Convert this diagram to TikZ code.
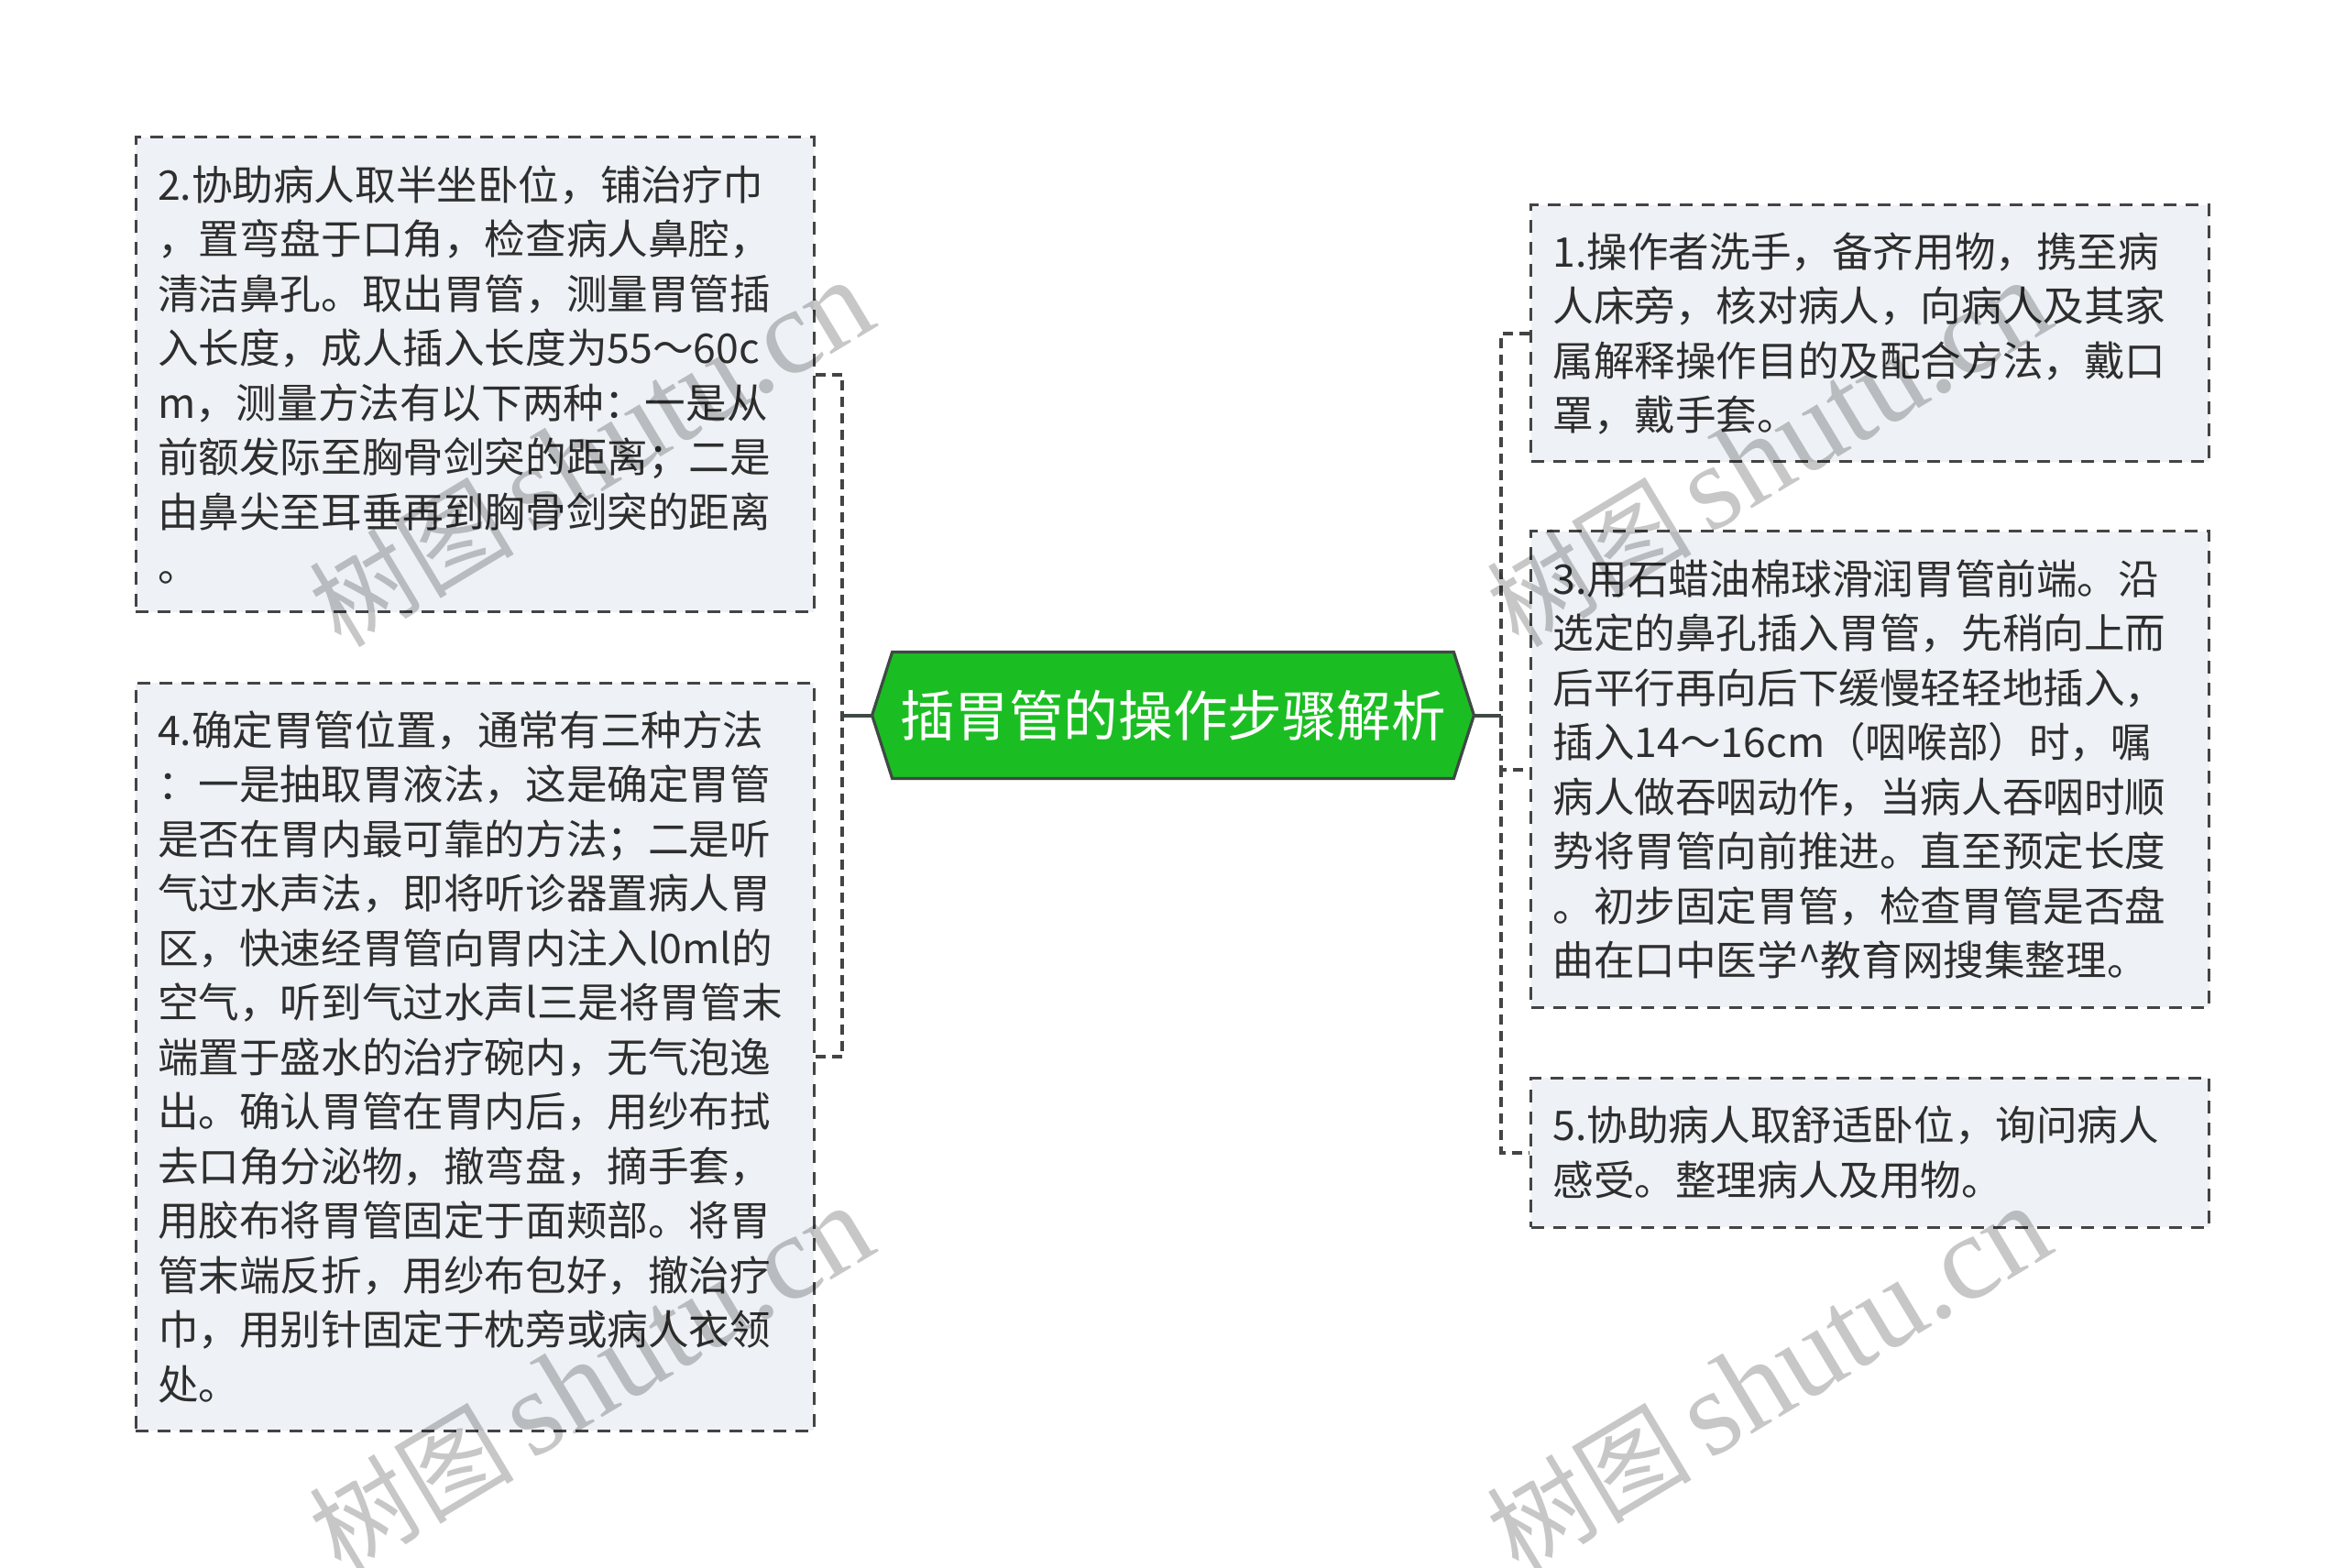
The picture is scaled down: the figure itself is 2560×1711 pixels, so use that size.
\documentclass[tikz,border=0pt]{standalone}
\usepackage{fontspec}
\setmainfont{Noto Sans CJK SC}
\newfontfamily\wmlatin{Liberation Serif}
\usetikzlibrary{backgrounds}
\definecolor{boxfill}{HTML}{EEF1F5}
\definecolor{boxline}{HTML}{444444}
\definecolor{txt}{HTML}{2E2E2E}
\definecolor{rootfill}{HTML}{1BBE22}
\definecolor{rootline}{HTML}{3E4A43}
\begin{document}
\begin{tikzpicture}[x=0.5pt,y=-0.5pt,
  leaf/.style={draw=boxline, line width=1.5pt, dash pattern=on 7pt off 5pt,
    fill=boxfill, text=txt, font=\fontsize{22.3pt}{29.75pt}\selectfont,
    align=left, inner xsep=12pt, inner ysep=0pt, text width=346pt,
    minimum width=370pt},
  root/.style={minimum width=328pt, minimum height=68.5pt, inner sep=0pt,
    text=white, font=\fontsize{29.8pt}{36pt}\selectfont},
  conn/.style={draw=boxline, line width=2pt, dash pattern=on 5.5pt off 3.5pt},
  stub/.style={draw=rootline, line width=2pt},
  wmark/.style={rotate=31, text=black, text opacity=0.22, inner sep=0pt}
]
\useasboundingbox (0,0) rectangle (2560,1711);

% root
\node[root] (c) at (1280,780.5) {插胃管的操作步骤解析};
\begin{scope}[on background layer]
\fill[white] (0,0) rectangle (2560,1711);
\draw[fill=rootfill, draw=rootline, line width=1.6pt, line join=miter]
  (c.west) -- ([xshift=11pt]c.north west) -- ([xshift=-11pt]c.north east)
  -- (c.east) -- ([xshift=-11pt]c.south east) -- ([xshift=11pt]c.south west) -- cycle;
\end{scope}

% leaves
\node[leaf, minimum height=259pt] (b2) at (518,409) {2.协助病人取半坐卧位，铺治疗巾\\，置弯盘于口角，检查病人鼻腔，\\清洁鼻孔。取出胃管，测量胃管插\\入长度，成人插入长度为55～60c\\m，测量方法有以下两种：一是从\\前额发际至胸骨剑突的距离；二是\\由鼻尖至耳垂再到胸骨剑突的距离\\。};
\node[leaf, minimum height=408pt] (b4) at (518,1153) {4.确定胃管位置，通常有三种方法\\：一是抽取胃液法，这是确定胃管\\是否在胃内最可靠的方法；二是听\\气过水声法，即将听诊器置病人胃\\区，快速经胃管向胃内注入l0ml的\\空气，听到气过水声l三是将胃管末\\端置于盛水的治疗碗内，无气泡逸\\出。确认胃管在胃内后，用纱布拭\\去口角分泌物，撤弯盘，摘手套，\\用胶布将胃管固定于面颊部。将胃\\管末端反折，用纱布包好，撤治疗\\巾，用别针固定于枕旁或病人衣领\\处。};
\node[leaf, minimum height=140pt] (b1) at (2040.5,364) {1.操作者洗手，备齐用物，携至病\\人床旁，核对病人，向病人及其家\\属解释操作目的及配合方法，戴口\\罩，戴手套。};
\node[leaf, minimum height=259.5pt] (b3) at (2040.5,839.5) {3.用石蜡油棉球滑润胃管前端。沿\\选定的鼻孔插入胃管，先稍向上而\\后平行再向后下缓慢轻轻地插入，\\插入14～16cm（咽喉部）时，嘱\\病人做吞咽动作，当病人吞咽时顺\\势将胃管向前推进。直至预定长度\\。初步固定胃管，检查胃管是否盘\\曲在口中医学\^{}教育网搜集整理。};
\node[leaf, minimum height=81.5pt] (b5) at (2040.5,1257.5) {5.协助病人取舒适卧位，询问病人\\感受。整理病人及用物。};

% connectors
\coordinate (jl) at (919,780.5);
\coordinate (jr) at (1638,780.5);
\draw[stub] (c.west) -- (jl);
\draw[stub] (c.east) -- (jr);
\draw[conn] (b2.east) -| (jl) |- (b4.east);
\draw[conn] (b1.west) -| (jr) |- (b5.west);
\draw[conn] (jr) |- (b3.west);

% watermarks
\node[wmark] (w1) at (645,495) {\fontsize{56pt}{60pt}\selectfont 树图\,{\wmlatin\fontsize{66pt}{70pt}\selectfont shutu.cn}};
\node[wmark] (w2) at (645,1505) {\fontsize{56pt}{60pt}\selectfont 树图\,{\wmlatin\fontsize{66pt}{70pt}\selectfont shutu.cn}};
\node[wmark] (w3) at (1930,495) {\fontsize{56pt}{60pt}\selectfont 树图\,{\wmlatin\fontsize{66pt}{70pt}\selectfont shutu.cn}};
\node[wmark] (w4) at (1930,1505) {\fontsize{56pt}{60pt}\selectfont 树图\,{\wmlatin\fontsize{66pt}{70pt}\selectfont shutu.cn}};
\end{tikzpicture}
\end{document}
